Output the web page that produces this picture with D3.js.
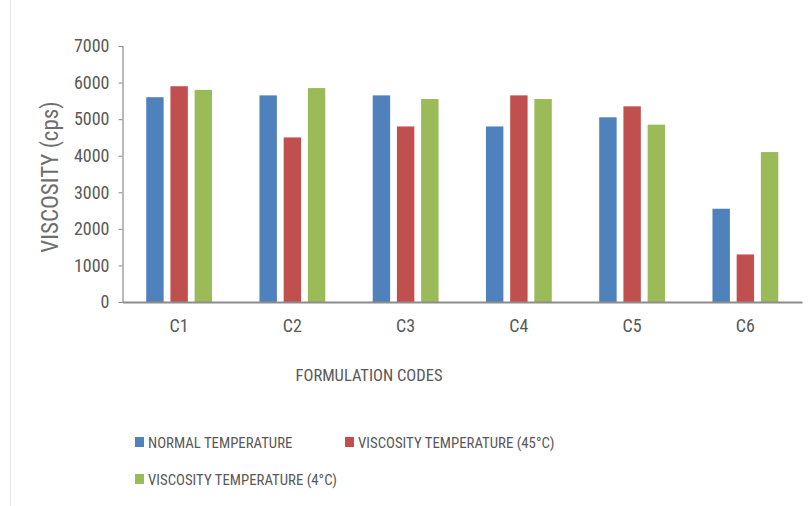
<!DOCTYPE html>
<html>
<head>
<meta charset="utf-8">
<script src="https://cdn.jsdelivr.net/npm/d3@7"></script>
<style>
html,body{margin:0;padding:0;background:#fff;}
svg{display:block;}
text{font-family:"Liberation Sans Narrow","Roboto Condensed","Liberation Sans",Arial,sans-serif;fill:#595959;}
</style>
</head>
<body>
<svg id="chart" width="808" height="506"></svg>
<script>
const categories = ["C1","C2","C3","C4","C5","C6"];
const seriesNames = ["NORMAL TEMPERATURE","VISCOSITY TEMPERATURE (45\u00B0C)","VISCOSITY TEMPERATURE (4\u00B0C)"];
const normalTemp = [5600, 5650, 5650, 4800, 5050, 2550];
const temp45 = [5900, 4500, 4800, 5650, 5350, 1300];
const temp4 = [5800, 5850, 5550, 5550, 4850, 4100];
const yTicks = [0,1000,2000,3000,4000,5000,6000,7000];
const colors = ["#4F81BD","#C0504D","#9BBB59"];

const seriesValues = [normalTemp, temp45, temp4];
const svg = d3.select("#chart");

// faint left border
svg.append("line").attr("x1",10.5).attr("x2",10.5).attr("y1",0).attr("y2",506)
  .attr("stroke","#e3e3e3").attr("stroke-width",1);

const plot = {left:122.5, right:802, top:46, bottom:302};

const x = d3.scaleBand().domain(categories).range([plot.left, plot.right]).paddingInner(0).paddingOuter(0);
const xSub = d3.scaleBand().domain(d3.range(seriesValues.length)).range([0, x.bandwidth()]).paddingInner(0.28).paddingOuter(0.98);
const y = d3.scaleLinear().domain([0,7000]).range([plot.bottom, plot.top]);

// bars
categories.forEach((c,i)=>{
  seriesValues.forEach((vals,s)=>{
    svg.append("rect")
      .attr("x", x(c)+xSub(s))
      .attr("y", y(vals[i]))
      .attr("width", xSub.bandwidth())
      .attr("height", y(0)-y(vals[i]))
      .attr("fill", colors[s]);
  });
});

// y axis
const yAxis = d3.axisLeft(y).tickValues(yTicks).tickSize(4).tickPadding(9).tickFormat(d3.format("d"));
const gy = svg.append("g").attr("transform",`translate(${plot.left},0)`).call(yAxis);
gy.select(".domain").attr("stroke","#8c8c8c").attr("stroke-width",1.2);
gy.selectAll(".tick line").attr("stroke","#8c8c8c");
gy.selectAll("text").style("font-size","18px").attr("fill","#646464");

// x axis
const xAxis = d3.axisBottom(x).tickSize(0).tickPadding(17);
const gx = svg.append("g").attr("transform",`translate(0,${plot.bottom})`).call(xAxis);
gx.select(".domain").attr("stroke","#8c8c8c").attr("stroke-width",2);
gx.selectAll("text").style("font-size","18px").attr("fill","#646464");

// axis titles
svg.append("text").attr("transform","translate(58,177) rotate(-90)")
  .attr("text-anchor","middle").style("font-size","23px").style("fill","#6e6e6e").text("VISCOSITY (cps)");
svg.append("text").attr("x",369).attr("y",381)
  .attr("text-anchor","middle").style("font-size","16.5px").text("FORMULATION CODES");

// legend
const legendPos = [[135,442],[345,442],[135,479]];
seriesNames.forEach((n,s)=>{
  const [lx,ly] = legendPos[s];
  svg.append("rect").attr("x",lx).attr("y",ly-5).attr("width",9).attr("height",10).attr("fill",colors[s]);
  svg.append("text").attr("x",lx+13).attr("y",ly+5.5).style("font-size","14.8px").text(n);
});
</script>
</body>
</html>
